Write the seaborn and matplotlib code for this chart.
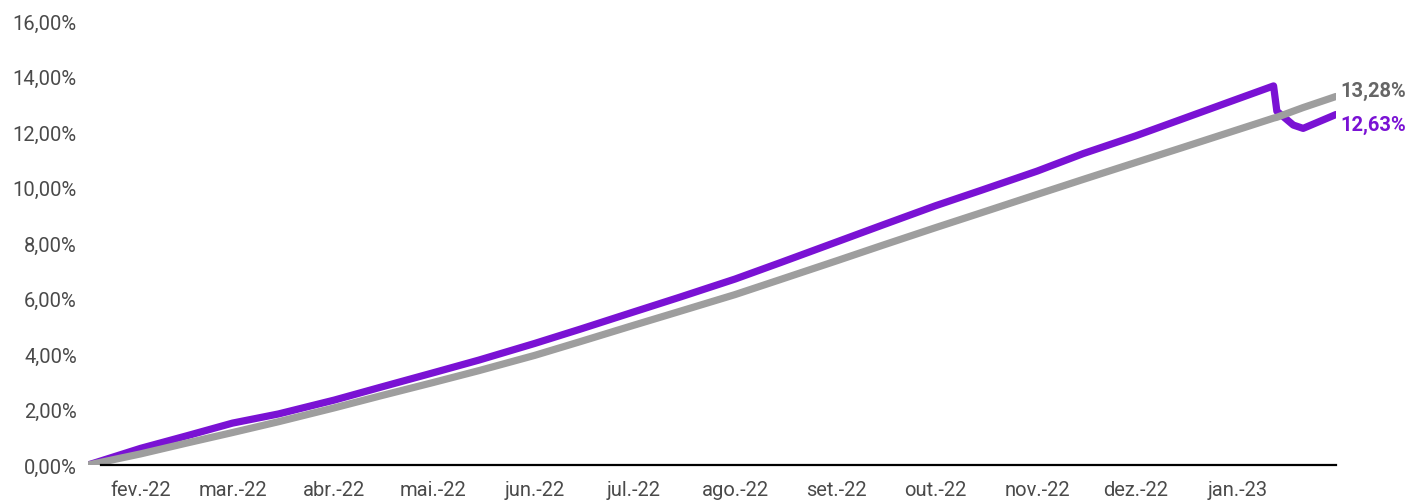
import matplotlib
matplotlib.use("Agg")
import matplotlib.pyplot as plt
import matplotlib.dates as mdates
import seaborn as sns
import pandas as pd
import numpy as np

# ---- data ----
dates = ["2022-01-16", "2022-02-01", "2022-02-15", "2022-03-01", "2022-03-15",
         "2022-04-01", "2022-04-15", "2022-05-01", "2022-05-15", "2022-06-01",
         "2022-06-15", "2022-07-01", "2022-07-15", "2022-08-01", "2022-08-15",
         "2022-09-01", "2022-09-15", "2022-10-01", "2022-10-15", "2022-11-01",
         "2022-11-15", "2022-12-01", "2022-12-15", "2023-01-01", "2023-01-12",
         "2023-01-13", "2023-01-18", "2023-01-21", "2023-01-26", "2023-01-31"]
benchmark = [0.00, 0.40, 0.79, 1.17, 1.56, 2.06, 2.49, 2.97, 3.40, 3.95,
             4.45, 5.03, 5.53, 6.14, 6.69, 7.36, 7.92, 8.55, 9.09, 9.75,
             10.29, 10.90, 11.43, 12.08, 12.50, 12.53, 12.75, 12.88, 13.08, 13.28]
fund = [0.00, 0.60, 1.05, 1.51, 1.84, 2.34, 2.80, 3.32, 3.78, 4.38,
        4.90, 5.51, 6.04, 6.70, 7.30, 8.04, 8.65, 9.34, 9.90, 10.59,
        11.22, 11.86, 12.46, 13.19, 13.66, 12.75, 12.25, 12.13, 12.38, 12.63]

tick_dates = ["2022-02-01", "2022-03-01", "2022-04-01", "2022-05-01", "2022-06-01",
              "2022-07-01", "2022-08-01", "2022-09-01", "2022-10-01", "2022-11-01",
              "2022-12-01", "2023-01-01"]
tick_labels = ["fev.-22", "mar.-22", "abr.-22", "mai.-22", "jun.-22", "jul.-22",
               "ago.-22", "set.-22", "out.-22", "nov.-22", "dez.-22", "jan.-23"]
y_ticks = [0, 2, 4, 6, 8, 10, 12, 14, 16]
y_labels = ["0,00%", "2,00%", "4,00%", "6,00%", "8,00%", "10,00%", "12,00%", "14,00%", "16,00%"]
end_labels = ["13,28%", "12,63%"]

PURPLE = "#7a12d4"
GRAY = "#9e9e9e"

df = pd.DataFrame({"date": pd.to_datetime(dates), "benchmark": benchmark, "fund": fund})

sns.set_theme(style="white")
plt.rcParams["font.family"] = ["Roboto", "DejaVu Sans"]

fig = plt.figure(figsize=(14.22, 5.02), dpi=100)
ax = fig.add_axes([0.0619, 0.0717, 0.8776, 0.8845])

sns.lineplot(data=df, x="date", y="fund", ax=ax, color=PURPLE, linewidth=5.2, zorder=3,
             solid_joinstyle="round", solid_capstyle="round")
sns.lineplot(data=df, x="date", y="benchmark", ax=ax, color=GRAY, linewidth=5.2, zorder=4,
             solid_joinstyle="round", solid_capstyle="round")

ax.set_xlim(pd.Timestamp("2022-01-16"), pd.Timestamp("2023-01-31"))
ax.set_ylim(0, 16)
ax.set_xticks(pd.to_datetime(tick_dates))
ax.set_xticklabels(tick_labels)
ax.set_yticks(y_ticks)
ax.set_yticklabels(y_labels)
ax.set_xlabel("")
ax.set_ylabel("")
ax.tick_params(axis="both", length=0, labelsize=14.5, labelcolor="#4a4a4a")
ax.tick_params(axis="x", pad=11)
ax.tick_params(axis="y", pad=8)
for lab in ax.get_yticklabels():
    lab.set_horizontalalignment("right")

for s in ["top", "right", "left"]:
    ax.spines[s].set_visible(False)
ax.spines["bottom"].set_color("black")
ax.spines["bottom"].set_linewidth(1.6)
ax.spines["bottom"].set_bounds(mdates.date2num(pd.Timestamp("2022-01-20")),
                               mdates.date2num(pd.Timestamp("2023-01-31")))
ax.spines["bottom"].set_zorder(5)

last = df["date"].iloc[-1]
ax.annotate(end_labels[0], xy=(last, benchmark[-1]), xytext=(3, 4), textcoords="offset points",
            ha="left", va="center", fontsize=14.5, fontweight="bold", color="#666666",
            annotation_clip=False)
ax.annotate(end_labels[1], xy=(last, fund[-1]), xytext=(3, -7), textcoords="offset points",
            ha="left", va="center", fontsize=14.5, fontweight="bold", color=PURPLE,
            annotation_clip=False)

fig.savefig("out.png", dpi=100)
